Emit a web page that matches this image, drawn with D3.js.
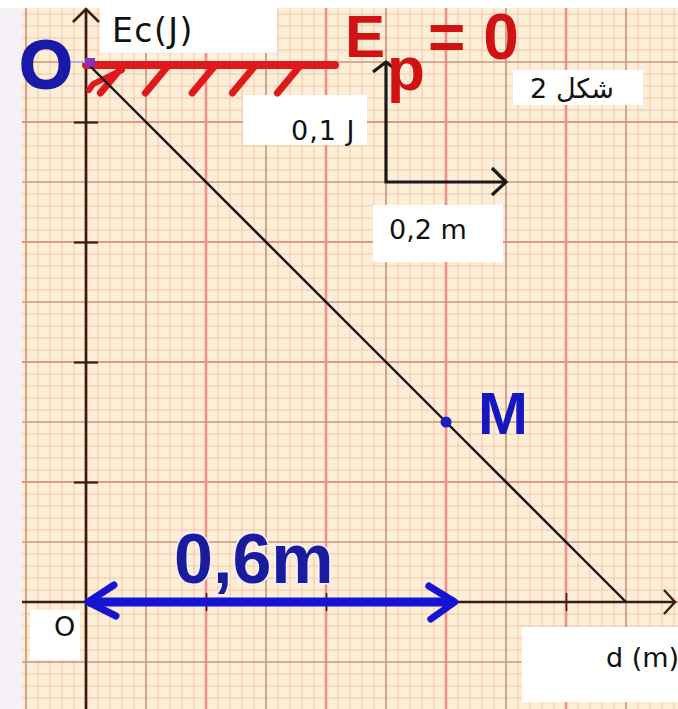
<!DOCTYPE html>
<html><head><meta charset="utf-8">
<script src="https://cdn.jsdelivr.net/npm/d3@7"></script>
<style>html,body{margin:0;padding:0;background:#fff;} svg{display:block}</style>
</head><body><div id="chart"></div>
<script>
// ---------- data ----------
const distance = [0, 0.6, 0.9];          // d (m)
const kineticEnergy = [0.45, 0.15, 0];   // Ec (J)
const pointM = [0.6, 0.15];
const xTickValues = [0.2, 0.4, 0.6, 0.8];
const yTickValues = [0.1, 0.2, 0.3, 0.4];
const epLevel = 0.45;
const epExtent = [0, 0.415];
const hatchD = [0.06, 0.135, 0.213, 0.28, 0.355];
const scaleOrigin = [0.5, 0.35];
const scaleStep = [0.2, 0.1];
const spanArrow = [0, 0.618];
const textLabels = ["Ec(J)", "d (m)", "O", "O", "شكل 2", "0,1 J", "0,2 m", "0,6m", "M", "E", "p", "= 0"];

// ---------- scales ----------
const W = 678, H = 709;
const x = d3.scaleLinear().domain([0, 1]).range([86, 686]);
const y = d3.scaleLinear().domain([0, 0.5]).range([602, 2]);

const svg = d3.select("#chart").append("svg").attr("width", W).attr("height", H);
svg.append("rect").attr("width", W).attr("height", H).attr("fill", "#f6f1f6");

const gridArea = {x0: 22, y0: 8, x1: W, y1: H};
svg.append("clipPath").attr("id", "gclip").append("rect")
  .attr("x", gridArea.x0).attr("y", gridArea.y0)
  .attr("width", gridArea.x1 - gridArea.x0).attr("height", gridArea.y1 - gridArea.y0);
const grid = svg.append("g").attr("clip-path", "url(#gclip)");
grid.append("rect").attr("x", 0).attr("y", 0).attr("width", W).attr("height", H).attr("fill", "#fdeed8");

// minor grid (0.02 m, 0.01 J)
const vMinor = d3.range(-6, 51).map(k => k * 0.02);
const hMinor = d3.range(-10, 51).map(k => k * 0.01);
grid.selectAll(".vmin").data(vMinor).join("line")
  .attr("x1", d => x(d)).attr("x2", d => x(d)).attr("y1", 0).attr("y2", H)
  .attr("stroke", "#f0c6a8").attr("stroke-width", 1);
grid.selectAll(".hmin").data(hMinor).join("line")
  .attr("y1", d => y(d)).attr("y2", d => y(d)).attr("x1", 0).attr("x2", W)
  .attr("stroke", "#f0c6a8").attr("stroke-width", 1);

// medium grid
const vMed = d3.range(-1, 11).map(k => k * 0.1);
const hMed = d3.range(-2, 11).map(k => k * 0.05);
grid.selectAll(".vmed").data(vMed).join("line")
  .attr("x1", d => x(d)).attr("x2", d => x(d)).attr("y1", 0).attr("y2", H)
  .attr("stroke", (d, i) => ((i + 1) % 2 === 0 ? "#f29088" : "#c7987f"))
  .attr("stroke-width", (d, i) => ((i + 1) % 2 === 0 ? 2.6 : 1.6));
grid.selectAll(".hmed").data(hMed).join("line")
  .attr("y1", d => y(d)).attr("y2", d => y(d)).attr("x1", 0).attr("x2", W)
  .attr("stroke", (d, i) => (i % 2 === 0 ? "#e0988a" : "#cc9a86"))
  .attr("stroke-width", (d, i) => (i % 2 === 0 ? 2.2 : 1.7));

// ---------- white label boxes ----------
const boxes = [
  [100, 0, 177, 53], [243, 95, 124, 50], [373, 205, 130, 57],
  [513, 70, 130, 35], [30, 610, 50, 50], [522, 627, 156, 75]
];
svg.selectAll(".box").data(boxes).join("rect")
  .attr("x", d => d[0]).attr("y", d => d[1]).attr("width", d => d[2]).attr("height", d => d[3])
  .attr("fill", "#ffffff");
svg.append("rect").attr("x", 0).attr("y", 0).attr("width", W).attr("height", gridArea.y0).attr("fill", "#fff");

// ---------- axes ----------
const axisColor = "#3a1c10";
const xAxis = svg.append("g").attr("transform", `translate(0,${y(0)})`)
  .call(d3.axisBottom(x).tickValues(xTickValues).tickFormat("").tickSizeOuter(0).tickSizeInner(9));
xAxis.select(".domain").remove();
xAxis.selectAll(".tick line").attr("y1", -9).attr("y2", 9).attr("stroke", axisColor).attr("stroke-width", 1.6);
const yAxis = svg.append("g").attr("transform", `translate(${x(0)},0)`)
  .call(d3.axisLeft(y).tickValues(yTickValues).tickFormat("").tickSizeOuter(0).tickSizeInner(12));
yAxis.select(".domain").remove();
yAxis.selectAll(".tick line").attr("x1", -12).attr("x2", 12).attr("stroke", axisColor).attr("stroke-width", 2.2);

svg.append("line").attr("x1", gridArea.x0).attr("x2", W - 2).attr("y1", y(0)).attr("y2", y(0))
  .attr("stroke", axisColor).attr("stroke-width", 2.4);
svg.append("path").attr("d", `M${W - 14},${y(0) - 12}L${W - 3},${y(0)}L${W - 14},${y(0) + 12}`)
  .attr("fill", "none").attr("stroke", axisColor).attr("stroke-width", 2.4);
svg.append("line").attr("x1", x(0)).attr("x2", x(0)).attr("y1", 10).attr("y2", H)
  .attr("stroke", axisColor).attr("stroke-width", 2.6);
svg.append("path").attr("d", `M${x(0) - 13},${22}L${x(0)},${9}L${x(0) + 13},${22}`)
  .attr("fill", "none").attr("stroke", axisColor).attr("stroke-width", 2.6);

// ---------- Ep = 0 reference line with hatching ----------
svg.append("line").attr("x1", x(epExtent[0])).attr("x2", x(epExtent[1]))
  .attr("y1", y(epLevel) + 3).attr("y2", y(epLevel) + 3)
  .attr("stroke", "#e01a1a").attr("stroke-width", 8).attr("stroke-linecap", "round");
svg.selectAll(".hatch").data(hatchD).join("line")
  .attr("x1", d => x(d)).attr("y1", y(epLevel) + 5)
  .attr("x2", d => x(d - 0.036)).attr("y2", y(epLevel) + 31)
  .attr("stroke", "#e01a1a").attr("stroke-width", 7).attr("stroke-linecap", "round");
svg.append("path")
  .attr("d", `M${x(0.06)},${y(epLevel) + 8}L${x(0.012)},${y(epLevel) + 22}L${x(0.005)},${y(epLevel) + 28}`)
  .attr("fill", "none").attr("stroke", "#e01a1a").attr("stroke-width", 6).attr("stroke-linecap", "round");

// ---------- data line ----------
const pts = distance.map((d, i) => [d, kineticEnergy[i]]);
svg.append("path").datum(pts)
  .attr("d", d3.line().x(d => x(d[0])).y(d => y(d[1])))
  .attr("fill", "none").attr("stroke", "#141414").attr("stroke-width", 2.4);

// purple junction mark and faint link to O
svg.append("line").attr("x1", 70).attr("x2", x(0)).attr("y1", y(epLevel)).attr("y2", y(epLevel))
  .attr("stroke", "#b4a8f0").attr("stroke-width", 2);
svg.append("rect").attr("x", x(0) - 1).attr("y", y(epLevel) - 4).attr("width", 10).attr("height", 9)
  .attr("fill", "#8a30b8");

// point M
svg.append("circle").attr("cx", x(pointM[0])).attr("cy", y(pointM[1])).attr("r", 5.5).attr("fill", "#1d1dc4");

// ---------- scale bars ----------
const sx0 = x(scaleOrigin[0]), sy0 = y(scaleOrigin[1]);
const sx1 = x(scaleOrigin[0] + scaleStep[0]), sy1 = y(scaleOrigin[1] + scaleStep[1]);
svg.append("path").attr("d", `M${sx0},${sy1}L${sx0},${sy0}L${sx1},${sy0}`)
  .attr("fill", "none").attr("stroke", "#1a1a1a").attr("stroke-width", 3.2);
svg.append("path").attr("d", `M${sx0 - 13},${sy1 + 10}L${sx0},${sy1}L${sx0 + 13},${sy1 + 10}`)
  .attr("fill", "none").attr("stroke", "#1a1a1a").attr("stroke-width", 3.2);
svg.append("path").attr("d", `M${sx1 - 14},${sy0 - 14}L${sx1},${sy0}L${sx1 - 14},${sy0 + 13}`)
  .attr("fill", "none").attr("stroke", "#1a1a1a").attr("stroke-width", 3.2);

// ---------- blue span arrow ----------
const ax0 = x(spanArrow[0]), ax1 = x(spanArrow[1]), ay = y(0);
const blue = "#1414d2";
svg.append("line").attr("x1", ax0 + 2).attr("x2", ax1 - 2).attr("y1", ay).attr("y2", ay)
  .attr("stroke", blue).attr("stroke-width", 9);
svg.append("path").attr("d", `M${ax0 + 28},${ay - 17}L${ax0 + 2},${ay}L${ax0 + 30},${ay + 14}`)
  .attr("fill", "none").attr("stroke", blue).attr("stroke-width", 7).attr("stroke-linecap", "round").attr("stroke-linejoin", "round");
svg.append("path").attr("d", `M${ax1 - 28},${ay - 16}L${ax1 - 2},${ay}L${ax1 - 26},${ay + 17}`)
  .attr("fill", "none").attr("stroke", blue).attr("stroke-width", 7).attr("stroke-linecap", "round").attr("stroke-linejoin", "round");

// ---------- texts ----------
const sans = "'DejaVu Sans', Verdana, sans-serif";
const bold = "'Liberation Sans', Arial, sans-serif";
function txt(t, px, py, size, fam, fill, weight, anchor) {
  return svg.append("text").attr("x", px).attr("y", py).attr("font-size", size)
    .attr("font-family", fam).attr("fill", fill).attr("font-weight", weight || "normal")
    .attr("text-anchor", anchor || "start").text(t);
}
txt(textLabels[0], 112, 42, 33, sans, "#111").attr("letter-spacing", 1.5);
txt(textLabels[1], 606, 667, 27, sans, "#111");
txt(textLabels[2], 54, 636, 27, sans, "#111");
txt(textLabels[3], 46, 88, 68, bold, "#1a1aa8", "bold", "middle")
  .attr("stroke", "#1a1aa8").attr("stroke-width", 2);
txt(textLabels[4], 572, 98, 27, sans, "#111", "normal", "middle");
txt(textLabels[5], 291, 140, 27, sans, "#111").attr("letter-spacing", 1);
txt(textLabels[6], 389, 239, 27, sans, "#111");
txt(textLabels[7], 174, 583, 70, bold, "#1b1b9e", "bold")
  .attr("stroke", "#f4f0ff").attr("stroke-width", 3).attr("paint-order", "stroke");
txt(textLabels[8], 478, 434, 60, bold, "#1717c2", "bold");
txt(textLabels[9], 345, 57, 60, bold, "#d01212", "bold");
txt(textLabels[10], 387, 90, 62, bold, "#d01212", "bold");
txt(textLabels[11], 428, 59, 64, bold, "#d01212", "bold");
</script>
</body></html>
